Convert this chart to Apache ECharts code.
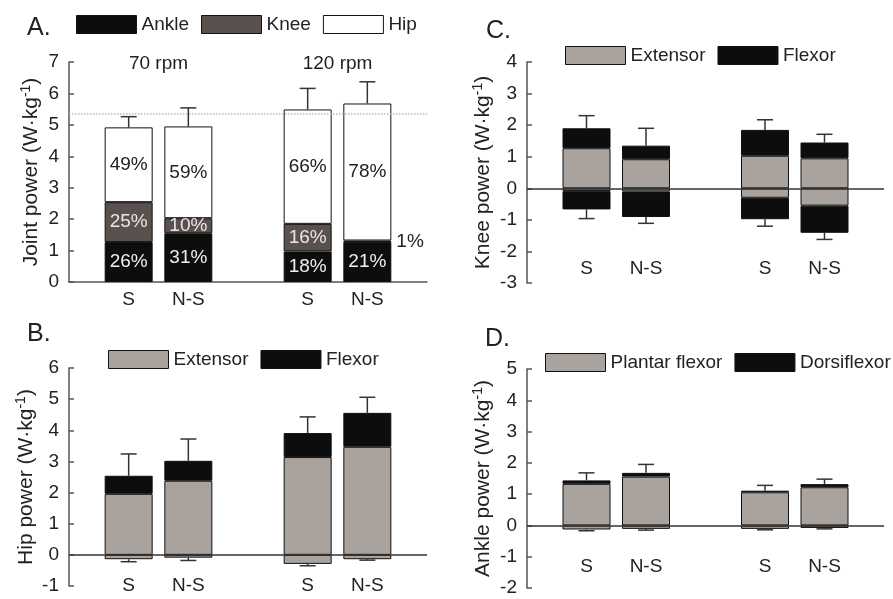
<!DOCTYPE html>
<html><head><meta charset="utf-8">
<script src="https://cdn.jsdelivr.net/npm/echarts@6/dist/echarts.min.js"></script>
<style>html,body{margin:0;padding:0;background:#fff}#c{width:893px;height:599px}</style>
</head><body><div id="c"></div><script>
// ---------- data ----------
const categories = ['', 'S', 'N-S', '', 'S', 'N-S', ''];
const groupLabels = ['70 rpm', '120 rpm'];

// Panel A: joint power (segment heights)
const aAnkle = [null, 1.27, 1.55, null, 0.97, 1.27, null];
const aKnee  = [null, 1.27, 0.48, null, 0.88, 0.05, null];
const aHip   = [null, 2.38, 2.92, null, 3.64, 4.36, null];
const aErrTop = [null, 5.26, 5.54, null, 6.16, 6.37, null];
const aAnkleLbl = ['', '26%', '31%', '', '18%', '21%', ''];
const aKneeLbl  = ['', '25%', '10%', '', '16%', '1%', ''];
const aHipLbl   = ['', '49%', '59%', '', '66%', '78%', ''];
const aRefLine = 5.36;

// Panel B: hip power
const bExtPos  = [null, 1.96, 2.38, null, 3.14, 3.47, null];
const bFlexPos = [null, 0.58, 0.64, null, 0.77, 1.09, null];
const bExtNeg  = [null, -0.14, -0.09, null, -0.29, -0.14, null];
const bErrTop  = [null, 3.24, 3.72, null, 4.43, 5.06, null];
const bErrBot  = [null, -0.22, -0.18, null, -0.35, -0.17, null];

// Panel C: knee power
const cExtPos  = [null, 1.27, 0.92, null, 1.03, 0.95, null];
const cFlexPos = [null, 0.63, 0.43, null, 0.82, 0.50, null];
const cExtNeg  = [null, -0.09, -0.10, null, -0.30, -0.55, null];
const cFlexNeg = [null, -0.58, -0.81, null, -0.68, -0.86, null];
const cErrTop  = [null, 2.30, 1.90, null, 2.17, 1.71, null];
const cErrBot  = [null, -0.96, -1.11, null, -1.20, -1.62, null];

// Panel D: ankle power
const dPlanPos = [null, 1.33, 1.56, null, 1.06, 1.22, null];
const dDorsPos = [null, 0.11, 0.12, null, 0.05, 0.10, null];
const dPlanNeg = [null, -0.13, -0.11, null, -0.11, -0.08, null];
const dErrTop  = [null, 1.68, 1.95, null, 1.28, 1.48, null];
const dErrBot  = [null, -0.17, -0.15, null, -0.14, -0.11, null];

// ---------- helpers ----------
const FONT = "'Liberation Sans', Arial, sans-serif";
const TXT = '#222';
const C_BLACK = '#0d0d0d', C_KNEE = '#5a514e', C_WHITE = '#ffffff', C_GRAY = '#aaa39d';

function seg(name, data, color, g, labels, labelColor) {
  return {
    type: 'bar', name, stack: 'st' + g, xAxisIndex: g, yAxisIndex: g, barWidth: 48, z: 2,
    data: data.map((v, i) => {
      if (labels && v !== null && v < 0.1) {
        return { value: v, label: { position: 'right', color: TXT, distance: 5 } };
      }
      return v;
    }),
    itemStyle: { color, borderColor: '#111', borderWidth: 1 },
    label: labels ? { show: true, position: 'inside', fontSize: 19, fontFamily: FONT, color: labelColor,
      formatter: p => labels[p.dataIndex] } : { show: false },
    emphasis: { disabled: true }
  };
}
function sum(...arrs) { return arrs[0].map((v, i) => v === null ? null : arrs.reduce((s, a) => s + (a[i] || 0), 0)); }
function errSeries(g, base, ends) {
  const data = [];
  base.forEach((b, i) => { if (b !== null && ends[i] !== null) data.push([i, b, ends[i]]); });
  return {
    type: 'custom', xAxisIndex: g, yAxisIndex: g, z: 3, silent: true, data,
    encode: { x: 0, y: [1, 2] },
    renderItem: (params, api) => {
      const p0 = api.coord([api.value(0), api.value(1)]);
      const p1 = api.coord([api.value(0), api.value(2)]);
      const hw = 8, st = { stroke: '#333', lineWidth: 1.5 };
      return { type: 'group', children: [
        { type: 'line', shape: { x1: p0[0], y1: p0[1], x2: p1[0], y2: p1[1] }, style: st },
        { type: 'line', shape: { x1: p1[0] - hw, y1: p1[1], x2: p1[0] + hw, y2: p1[1] }, style: st }
      ]};
    }
  };
}
function zeroLine(g) {
  return { type: 'line', xAxisIndex: g, yAxisIndex: g, data: [], z: 1, silent: true,
    markLine: { silent: true, symbol: 'none', label: { show: false },
      lineStyle: { type: 'solid', color: '#333', width: 1.5 }, data: [{ yAxis: 0 }] } };
}
function xCat(g, margin, showLine) {
  return {
    type: 'category', gridIndex: g, data: categories, boundaryGap: false,
    axisLine: { show: showLine, onZero: false, lineStyle: { color: '#555', width: 1.5 } },
    axisTick: { show: false },
    axisLabel: { interval: 0, margin, fontSize: 19, color: TXT, fontFamily: FONT }
  };
}
function yVal(g, min, max, label, gap) {
  return {
    type: 'value', gridIndex: g, min, max, interval: 1,
    axisLine: { show: true, lineStyle: { color: '#555', width: 1.5 } },
    axisTick: { show: true, inside: true, length: 5, lineStyle: { color: '#555', width: 1.5 } },
    splitLine: { show: false },
    axisLabel: { fontSize: 19, color: TXT, margin: 10, fontFamily: FONT },
    name: '{t|' + label + ' (W·kg}{s|-1}{t|)}',
    nameLocation: 'middle', nameGap: gap,
    nameTextStyle: { rich: {
      t: { fontSize: 21, color: TXT, fontFamily: FONT, lineHeight: 25 },
      s: { fontSize: 14, color: TXT, fontFamily: FONT, verticalAlign: 'top', lineHeight: 25 }
    } }
  };
}
const legendBase = { orient: 'horizontal', icon: 'rect', itemWidth: 60, itemHeight: 18, itemGap: 12,
  padding: 0, width: 400, selectedMode: false, itemStyle: { borderColor: '#111', borderWidth: 1 },
  textStyle: { fontSize: 19, color: TXT, fontFamily: FONT } };
function title(text, left, top) {
  return { text, left, top, padding: 0, textStyle: { fontSize: 25, fontWeight: 'normal', color: TXT, fontFamily: FONT } };
}
const gridBase = { outerBoundsMode: 'none', containLabel: false };

const option = {
  animation: false,
  textStyle: { fontFamily: FONT },
  title: [ title('A.', 27, 16), title('B.', 27, 322), title('C.', 486, 19), title('D.', 485, 327) ],
  legend: [
    Object.assign({}, legendBase, { data: ['Ankle', 'Knee', 'Hip'], left: 76, top: 15 }),
    Object.assign({}, legendBase, { data: ['Extensor', 'Flexor'], left: 108, top: 350 }),
    Object.assign({}, legendBase, { data: ['Extensor', 'Flexor'], left: 565, top: 46 }),
    Object.assign({}, legendBase, { data: ['Plantar flexor', 'Dorsiflexor'], left: 545, top: 353 })
  ],
  grid: [
    Object.assign({ left: 69, top: 62, width: 358, height: 220 }, gridBase),
    Object.assign({ left: 69, top: 368, width: 358, height: 218 }, gridBase),
    Object.assign({ left: 527, top: 62, width: 357, height: 221 }, gridBase),
    Object.assign({ left: 527, top: 369, width: 357, height: 219 }, gridBase)
  ],
  xAxis: [
    xCat(0, 8, true), xCat(1, -10, false), xCat(2, -24, false), xCat(3, -31, false),
    { type: 'value', gridIndex: 0, position: 'top', min: 0, max: 6, interval: 1.5,
      axisLine: { show: false }, axisTick: { show: false }, splitLine: { show: false },
      axisLabel: { margin: -11, fontSize: 19, color: TXT, fontFamily: FONT,
        formatter: v => v === 1.5 ? groupLabels[0] : (v === 4.5 ? groupLabels[1] : '') } }
  ],
  yAxis: [
    yVal(0, 0, 7, 'Joint power', 25),
    yVal(1, -1, 6, 'Hip power', 30),
    yVal(2, -3, 4, 'Knee power', 31),
    yVal(3, -2, 5, 'Ankle power', 31)
  ],
  series: [
    { type: 'line', xAxisIndex: 0, yAxisIndex: 0, data: [], z: 0, silent: true,
      markLine: { silent: true, symbol: 'none', label: { show: false },
        lineStyle: { type: 'dotted', color: '#bbb', width: 1.5 }, data: [{ yAxis: aRefLine }] } },
    seg('Ankle', aAnkle, C_BLACK, 0, aAnkleLbl, '#eeeeee'),
    seg('Knee', aKnee, C_KNEE, 0, aKneeLbl, '#e6e6e6'),
    seg('Hip', aHip, C_WHITE, 0, aHipLbl, TXT),
    errSeries(0, sum(aAnkle, aKnee, aHip), aErrTop),

    zeroLine(1),
    seg('Extensor', bExtPos, C_GRAY, 1),
    seg('Flexor', bFlexPos, C_BLACK, 1),
    seg('Extensor', bExtNeg, C_GRAY, 1),
    errSeries(1, sum(bExtPos, bFlexPos), bErrTop),
    errSeries(1, bExtNeg, bErrBot),

    zeroLine(2),
    seg('Extensor', cExtPos, C_GRAY, 2),
    seg('Flexor', cFlexPos, C_BLACK, 2),
    seg('Extensor', cExtNeg, C_GRAY, 2),
    seg('Flexor', cFlexNeg, C_BLACK, 2),
    errSeries(2, sum(cExtPos, cFlexPos), cErrTop),
    errSeries(2, sum(cExtNeg, cFlexNeg), cErrBot),

    zeroLine(3),
    seg('Plantar flexor', dPlanPos, C_GRAY, 3),
    seg('Dorsiflexor', dDorsPos, C_BLACK, 3),
    seg('Plantar flexor', dPlanNeg, C_GRAY, 3),
    errSeries(3, sum(dPlanPos, dDorsPos), dErrTop),
    errSeries(3, dPlanNeg, dErrBot)
  ]
};
const chart = echarts.init(document.getElementById('c'), null, { renderer: 'canvas' });
chart.setOption(option);
</script></body></html>
